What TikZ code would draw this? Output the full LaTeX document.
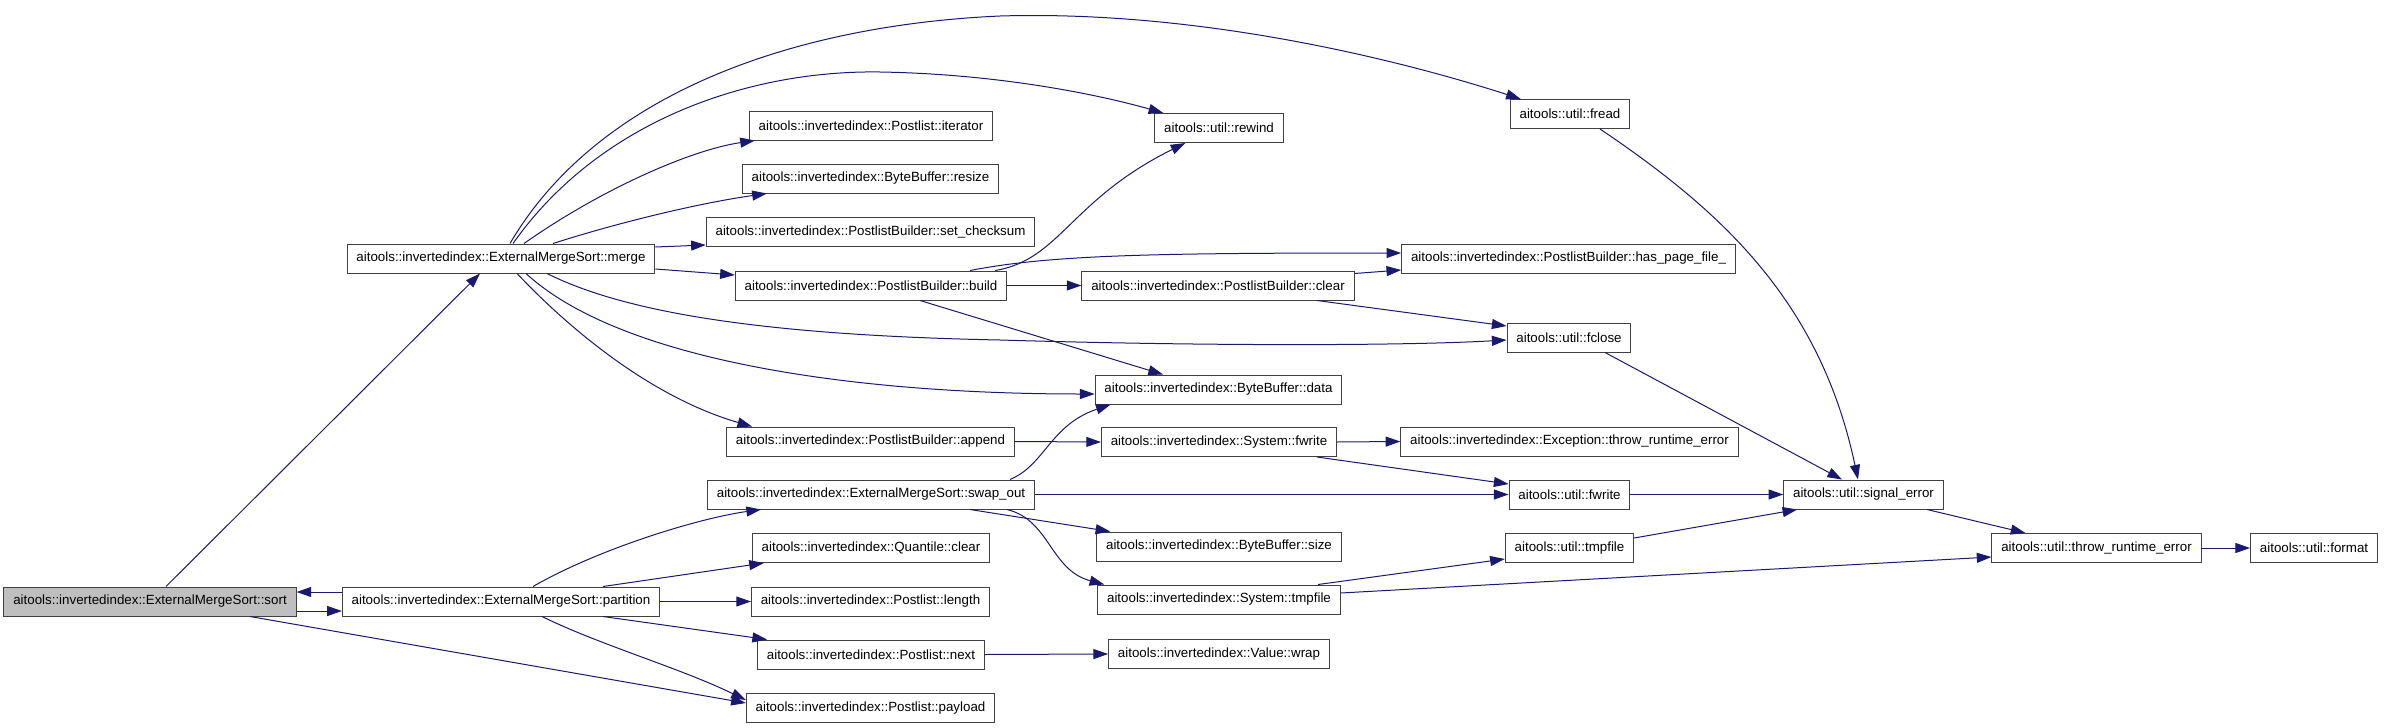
\documentclass[tikz,border=0pt]{standalone}
\usepackage{fontspec}
\setmainfont{Liberation Sans}
\usetikzlibrary{calc, arrows.meta}
\definecolor{edgeBlue}{HTML}{191970}
\definecolor{boxBorder}{HTML}{404040}
\definecolor{boxFocus}{HTML}{BFBFBF}
\tikzset{
  fn/.style={draw=boxBorder, fill=white, line width=0.75pt, inner xsep=7pt, inner ysep=0pt,
             minimum height=21.75pt, font=\fontsize{10}{12}\selectfont},
  call/.style={draw=edgeBlue, line width=0.75pt, -{Triangle[length=11pt,width=7.5pt]}},
}

\begin{document}
\begin{tikzpicture}[x=0.75pt, y=-0.75pt]
  \useasboundingbox (0,0) rectangle (2384,728);

  % callers and sorting stages
  \node[fn, fill=boxFocus] (sort) at (150,601.5) {aitools::invertedindex::ExternalMergeSort::sort};
  \node[fn] (merge) at (501,258.5) {aitools::invertedindex::ExternalMergeSort::merge};
  \node[fn] (partition) at (501,601.5) {aitools::invertedindex::ExternalMergeSort::partition};

  % first column
  \node[fn] (iter) at (871,125.5) {aitools::invertedindex::Postlist::iterator};
  \node[fn] (resize) at (870.5,178.5) {aitools::invertedindex::ByteBuffer::resize};
  \node[fn] (setchk) at (870.5,232) {aitools::invertedindex::PostlistBuilder::set\_checksum};
  \node[fn] (build) at (871,285.5) {aitools::invertedindex::PostlistBuilder::build};
  \node[fn] (append) at (870.5,441.5) {aitools::invertedindex::PostlistBuilder::append};
  \node[fn] (swapout) at (871,494.5) {aitools::invertedindex::ExternalMergeSort::swap\_out};
  \node[fn] (qclear) at (871,548) {aitools::invertedindex::Quantile::clear};
  \node[fn] (length) at (870.5,601.5) {aitools::invertedindex::Postlist::length};
  \node[fn] (next) at (871,654.5) {aitools::invertedindex::Postlist::next};
  \node[fn] (payload) at (870.5,708) {aitools::invertedindex::Postlist::payload};

  % second column
  \node[fn] (rewind) at (1219,128) {aitools::util::rewind};
  \node[fn] (pbclear) at (1218,285.5) {aitools::invertedindex::PostlistBuilder::clear};
  \node[fn] (bbdata) at (1218.5,389.5) {aitools::invertedindex::ByteBuffer::data};
  \node[fn] (sysfwrite) at (1219,442) {aitools::invertedindex::System::fwrite};
  \node[fn] (bbsize) at (1219,546.5) {aitools::invertedindex::ByteBuffer::size};
  \node[fn] (systmp) at (1219,599.5) {aitools::invertedindex::System::tmpfile};
  \node[fn] (wrap) at (1219,654) {aitools::invertedindex::Value::wrap};

  % third column
  \node[fn] (fread) at (1570,114) {aitools::util::fread};
  \node[fn] (haspage) at (1568.5,258.5) {aitools::invertedindex::PostlistBuilder::has\_page\_file\_};
  \node[fn] (fclose) at (1569,337.5) {aitools::util::fclose};
  \node[fn] (except) at (1569.5,441.5) {aitools::invertedindex::Exception::throw\_runtime\_error};
  \node[fn] (ufwrite) at (1569.5,494.5) {aitools::util::fwrite};
  \node[fn] (utmp) at (1569.5,548) {aitools::util::tmpfile};

  % error path
  \node[fn] (sigerr) at (1863.5,494.5) {aitools::util::signal\_error};
  \node[fn] (throwerr) at (2096.5,548) {aitools::util::throw\_runtime\_error};
  \node[fn] (format) at (2314,548) {aitools::util::format};

  % calls from sort and partition
  \draw[call] ($(sort.north)+(16,0)$) -- ($(merge.south)+(-21,0)$);
  \draw[call] ($(sort.east)+(0,9.5)$) -- ($(partition.west)+(0,9.5)$);
  \draw[call] ($(partition.west)+(0,-9.5)$) -- ($(sort.east)+(0,-9.5)$);
  \draw[call] ($(sort.south)+(100,0)$) -- ($(payload.west)+(0,-5)$);
  \draw[call] ($(partition.south)+(41,0)$) .. controls (600,645) and (680,668) .. ($(payload.west)+(0,-8)$);
  \draw[call] ($(partition.south)+(102,0)$) -- ($(next.north west)+(10,0)$);
  \draw[call] (partition.east) -- (length.west);
  \draw[call] ($(partition.north)+(102,0)$) -- ($(qclear.south west)+(12,0)$);
  \draw[call] ($(partition.north)+(32,0)$) .. controls (600,548) and (700,518) .. ($(swapout.south west)+(54,0)$);

  % calls from merge
  \draw[call] ($(merge.north)+(23,0)$) .. controls (600,190) and (690,150) .. ($(iter.south west)+(6,0)$);
  \draw[call] ($(merge.north)+(52,0)$) .. controls (620,222) and (700,203) .. ($(resize.south west)+(25,0)$);
  \draw[call] ($(merge.east)+(0,-11.5)$) -- ($(setchk.west)+(0,13)$);
  \draw[call] ($(merge.east)+(0,10.5)$) -- ($(build.west)+(0,-10.5)$);
  \draw[call] ($(merge.north)+(9,0)$) .. controls (600,90) and (800,25) .. (1000,16)
              .. controls (1200,10) and (1400,60) .. ($(fread.north west)+(11,0)$);
  \draw[call] ($(merge.north)+(12,0)$) .. controls (600,120) and (750,70) .. (880,72)
              .. controls (1000,74) and (1100,95) .. ($(rewind.north west)+(9,0)$);
  \draw[call] ($(merge.south)+(46,0)$) .. controls (620,310) and (750,335) .. (1000,340)
              .. controls (1200,346) and (1400,346) .. ($(fclose.west)+(0,2.5)$);
  \draw[call] ($(merge.south)+(25,0)$) .. controls (620,360) and (850,394) .. ($(bbdata.west)+(0,4.5)$);
  \draw[call] ($(merge.south)+(16,0)$) .. controls (580,340) and (660,400) .. ($(append.north west)+(26,0)$);

  % calls from build and clear
  \draw[call] ($(build.north)+(124,0)$) .. controls (1060,260) and (1070,200) .. ($(rewind.south west)+(31,0)$);
  \draw[call] ($(build.north)+(99,0)$) .. controls (1050,255) and (1150,253) .. ($(haspage.west)+(0,-5.5)$);
  \draw[call] (build.east) -- (pbclear.west);
  \draw[call] ($(build.south)+(49,0)$) -- ($(bbdata.north)+(-55.5,0)$);
  \draw[call] ($(pbclear.north east)+(0,3)$) -- ($(haspage.west)+(0,11.5)$);
  \draw[call] ($(pbclear.south)+(99,0)$) -- ($(fclose.west)+(0,-11.5)$);

  % calls from append, swap_out, next
  \draw[call] (append.east) -- (sysfwrite.west);
  \draw[call] ($(swapout.north)+(139,0)$) .. controls (1045,465) and (1050,425) .. ($(bbdata.south west)+(16,0)$);
  \draw[call] (swapout.east) -- (ufwrite.west);
  \draw[call] ($(swapout.south)+(99,0)$) -- ($(bbsize.north west)+(14,0)$);
  \draw[call] ($(swapout.south)+(136,0)$) .. controls (1050,520) and (1050,570) .. ($(systmp.north west)+(7,0)$);
  \draw[call] (next.east) -- (wrap.west);

  % system wrappers
  \draw[call] (sysfwrite.east) -- (except.west);
  \draw[call] ($(sysfwrite.south)+(98,0)$) -- ($(ufwrite.west)+(0,-10.5)$);
  \draw[call] ($(systmp.north)+(99,0)$) -- ($(utmp.west)+(0,11)$);
  \draw[call] ($(systmp.east)+(0,-6.5)$) -- ($(throwerr.west)+(0,9)$);

  % util error handling
  \draw[call] ($(fread.south)+(30,0)$) .. controls (1720,210) and (1820,300) .. ($(sigerr.north)+(-5.5,0)$);
  \draw[call] ($(fclose.south)+(36,0)$) -- ($(sigerr.north)+(-21.5,0)$);
  \draw[call] (ufwrite.east) -- (sigerr.west);
  \draw[call] ($(utmp.east)+(0,-10)$) -- ($(sigerr.south west)+(14,0)$);
  \draw[call] ($(sigerr.south)+(63.5,0)$) -- ($(throwerr.north west)+(34,0)$);
  \draw[call] (throwerr.east) -- (format.west);
\end{tikzpicture}
\end{document}
